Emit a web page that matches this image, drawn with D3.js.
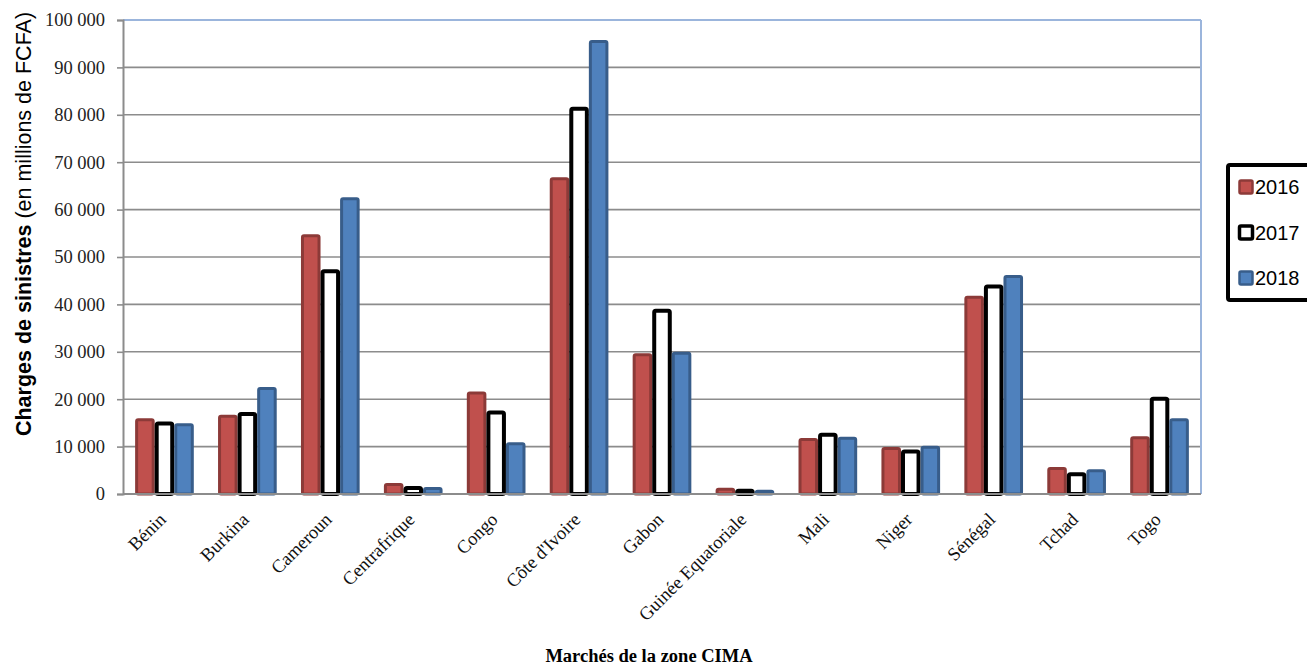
<!DOCTYPE html>
<html><head><meta charset="utf-8">
<script src="https://cdn.jsdelivr.net/npm/d3@7"></script>
<style>body{margin:0;background:#fff}svg{display:block}</style>
</head><body>
<svg id="c" width="1307" height="667"></svg>
<script>
const categories = ["Bénin","Burkina","Cameroun","Centrafrique","Congo","Côte d'Ivoire","Gabon","Guinée Equatoriale","Mali","Niger","Sénégal","Tchad","Togo"];
const seriesNames = ["2016","2017","2018"];
const values2016 = [16000,16700,54800,2300,21600,66800,29700,1300,11800,9900,41800,5700,12200];
const values2017 = [15300,17300,47400,1700,17600,81700,39100,1100,12900,9400,44200,4600,20500];
const values2018 = [14900,22600,62600,1500,10900,95800,30000,900,12100,10200,46200,5200,16000];
const yTicks = [0,10000,20000,30000,40000,50000,60000,70000,80000,90000,100000];

const svg = d3.select("#c");
const L = 123, R = 1201, T = 20, B = 494;
const x0 = d3.scaleBand().domain(categories).range([L, R]).padding(0);
const x1 = d3.scaleBand().domain(seriesNames).range([0, x0.bandwidth()]).paddingInner(0).paddingOuter(0.62);
const y = d3.scaleLinear().domain([0, 100000]).range([B, T]);
const fmt = v => d3.format(",")(v).replace(/,/g, " ");

// gridlines
svg.append("g").selectAll("line").data(yTicks.filter(d => d > 0 && d < 100000)).join("line")
  .attr("x1", L).attr("x2", R).attr("y1", d => y(d)).attr("y2", d => y(d))
  .attr("stroke", "#8c8c8c").attr("stroke-width", 1.6);
// top / right border
svg.append("line").attr("x1", L).attr("x2", R).attr("y1", T).attr("y2", T).attr("stroke", "#9bb5dc").attr("stroke-width", 2);
svg.append("line").attr("x1", R).attr("x2", R).attr("y1", T).attr("y2", B).attr("stroke", "#9bb5dc").attr("stroke-width", 2);

// y axis
const yAxis = d3.axisLeft(y).tickValues(yTicks).tickFormat(fmt).tickSize(6).tickPadding(12);
const ga = svg.append("g").attr("transform", `translate(${L},0)`).call(yAxis);
ga.select(".domain").attr("stroke", "#8c8c8c").attr("stroke-width", 2);
ga.selectAll(".tick line").attr("stroke", "#8c8c8c").attr("stroke-width", 1.6);
ga.selectAll("text").attr("font-family", "'Liberation Serif', serif").attr("font-size", 18.5).attr("fill", "#222");

// bars
const data = categories.map((c, i) => ({c, vals: [values2016[i], values2017[i], values2018[i]]}));
const styles = {
  "2016": {fill: "#c0504d", stroke: "#8c3a38", sw: 3},
  "2017": {fill: "#ffffff", stroke: "#000000", sw: 4},
  "2018": {fill: "#4f81bd", stroke: "#385d8a", sw: 3}
};
const g = svg.append("g");
data.forEach(d => {
  seriesNames.forEach((s, j) => {
    const st = styles[s];
    const xx = x0(d.c) + x1(s);
    const w = x1.bandwidth();
    const top = y(d.vals[j]);
    g.append("rect")
      .attr("x", xx + st.sw/2).attr("y", top + st.sw/2)
      .attr("width", w - st.sw).attr("height", Math.max(0, B - top - st.sw/2))
      .attr("rx", 1.5)
      .attr("fill", st.fill).attr("stroke", st.stroke).attr("stroke-width", st.sw);
  });
});

// x axis line
svg.append("line").attr("x1", L).attr("x2", R).attr("y1", B).attr("y2", B).attr("stroke", "#8c8c8c").attr("stroke-width", 2);

// x labels
svg.append("g").selectAll("text").data(categories).join("text")
  .attr("transform", d => `translate(${x0(d) + x0.bandwidth()/2 - 2},${B + 22}) rotate(-45)`)
  .attr("text-anchor", "end").attr("dy", "0.35em")
  .attr("font-family", "'Liberation Serif', serif").attr("font-size", 18.5).attr("fill", "#111")
  .text(d => d);

// x title
svg.append("text").attr("x", 649).attr("y", 662).attr("text-anchor", "middle")
  .attr("font-family", "'Liberation Serif', serif").attr("font-weight", "bold").attr("font-size", 18.5)
  .text("Marchés de la zone CIMA");

// y title
const yt = svg.append("text").attr("transform", `translate(31,224) rotate(-90)`).attr("text-anchor", "middle")
  .attr("font-family", "'Liberation Sans', Arial, sans-serif").attr("font-size", 21.5);
yt.append("tspan").attr("font-weight", "bold").text("Charges de sinistres");
yt.append("tspan").text(" (en millions de FCFA)");

// legend
const lg = svg.append("g");
lg.append("rect").attr("x", 1228).attr("y", 165).attr("width", 100).attr("height", 135)
  .attr("fill", "#fff").attr("stroke", "#000").attr("stroke-width", 4).attr("rx", 2);
const ly = d3.scalePoint().domain(seriesNames).range([187, 278]);
seriesNames.forEach(s => {
  const st = styles[s];
  lg.append("rect").attr("x", 1239.5).attr("y", ly(s) - 6.5).attr("width", 13).attr("height", 13).attr("rx", 1.5)
    .attr("fill", st.fill).attr("stroke", st.stroke).attr("stroke-width", s === "2017" ? 3.5 : 2.5);
  lg.append("text").attr("x", 1255).attr("y", ly(s)).attr("dy", "0.36em")
    .attr("font-family", "'Liberation Sans', Arial, sans-serif").attr("font-size", 20).text(s);
});
</script>
</body></html>
